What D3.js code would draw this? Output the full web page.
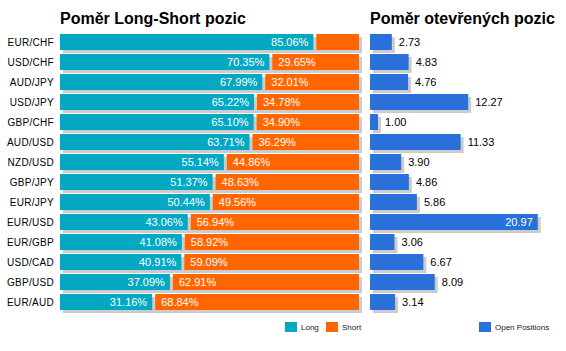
<!DOCTYPE html>
<html>
<head>
<meta charset="utf-8">
<script src="https://cdn.jsdelivr.net/npm/d3@7"></script>
<style>
  body { margin: 0; background: #fff; }
  text { font-family: "Liberation Sans", Arial, sans-serif; }
</style>
</head>
<body>
<div id="chart"></div>
<script>
const pairs = ["EUR/CHF", "USD/CHF", "AUD/JPY", "USD/JPY", "GBP/CHF", "AUD/USD", "NZD/USD",
    "GBP/JPY", "EUR/JPY", "EUR/USD", "EUR/GBP", "USD/CAD", "GBP/USD", "EUR/AUD"];
const longPct = [85.06, 70.35, 67.99, 65.22, 65.10, 63.71, 55.14, 51.37, 50.44, 43.06, 41.08, 40.91, 37.09, 31.16];
const shortPct = [14.94, 29.65, 32.01, 34.78, 34.90, 36.29, 44.86, 48.63, 49.56, 56.94, 58.92, 59.09, 62.91, 68.84];
const openPositions = [2.73, 4.83, 4.76, 12.27, 1.00, 11.33, 3.90, 4.86, 5.86, 20.97, 3.06, 6.67, 8.09, 3.14];

const W = 566, H = 351;
const teal = "#04a8c2", orange = "#ff6600", blue = "#2970db", shadow = "#cccccc";

const svg = d3.select("#chart").append("svg")
    .attr("width", W)
    .attr("height", H);

const y = d3.scaleBand()
    .domain(pairs)
    .range([32, 312])
    .paddingInner(0.2)
    .paddingOuter(0.1);

// Left chart: long/short ratio
const x = d3.scaleLinear().domain([0, 100]).range([60, 359]);

const rows = pairs.map((p, i) => ({ pair: p, long: longPct[i], short: shortPct[i], open: openPositions[i] }));

svg.append("text")
    .attr("x", 60)
    .attr("y", 24)
    .style("font-size", "16px")
    .style("font-weight", "bold")
    .text("Poměr Long-Short pozic");

const left = svg.append("g");

left.selectAll("rect.shadow")
    .data(rows)
    .join("rect")
    .attr("class", "shadow")
    .attr("x", x(0) + 3)
    .attr("y", d => y(d.pair) + 3)
    .attr("width", x(100) - x(0))
    .attr("height", y.bandwidth())
    .attr("fill", shadow);

left.selectAll("rect.long")
    .data(rows)
    .join("rect")
    .attr("class", "long")
    .attr("x", x(0))
    .attr("y", d => y(d.pair))
    .attr("width", d => x(d.long) - x(0) - 1)
    .attr("height", y.bandwidth())
    .attr("fill", teal);

left.selectAll("rect.short")
    .data(rows)
    .join("rect")
    .attr("class", "short")
    .attr("x", d => x(d.long) + 2)
    .attr("y", d => y(d.pair))
    .attr("width", d => x(100) - x(d.long) - 2)
    .attr("height", y.bandwidth())
    .attr("fill", orange);

left.selectAll("text.pair")
    .data(rows)
    .join("text")
    .attr("class", "pair")
    .attr("x", 54)
    .attr("y", d => y(d.pair) + y.bandwidth() / 2)
    .attr("dy", "0.35em")
    .attr("text-anchor", "end")
    .style("font-size", "10px")
    .style("letter-spacing", "0.3px")
    .text(d => d.pair);

left.selectAll("text.longLabel")
    .data(rows)
    .join("text")
    .attr("class", "longLabel")
    .attr("x", d => x(d.long) - 6)
    .attr("y", d => y(d.pair) + y.bandwidth() / 2)
    .attr("dy", "0.35em")
    .attr("text-anchor", "end")
    .style("font-size", "11px")
    .style("fill", "#fff")
    .text(d => d.long.toFixed(2) + "%");

left.selectAll("text.shortLabel")
    .data(rows.filter(d => d.short > 20))
    .join("text")
    .attr("class", "shortLabel")
    .attr("x", d => x(d.long) + 8)
    .attr("y", d => y(d.pair) + y.bandwidth() / 2)
    .attr("dy", "0.35em")
    .style("font-size", "11px")
    .style("fill", "#fff")
    .text(d => d.short.toFixed(2) + "%");

// Right chart: open positions
const x2 = d3.scaleLinear().domain([0, 25]).range([370, 570]);

svg.append("text")
    .attr("x", 370)
    .attr("y", 24)
    .style("font-size", "16px")
    .style("font-weight", "bold")
    .text("Poměr otevřených pozic");

const right = svg.append("g");

right.selectAll("rect.shadow")
    .data(rows)
    .join("rect")
    .attr("class", "shadow")
    .attr("x", x2(0) + 3)
    .attr("y", d => y(d.pair) + 3)
    .attr("width", d => x2(d.open) - x2(0))
    .attr("height", y.bandwidth())
    .attr("fill", shadow);

right.selectAll("rect.open")
    .data(rows)
    .join("rect")
    .attr("class", "open")
    .attr("x", x2(0))
    .attr("y", d => y(d.pair))
    .attr("width", d => x2(d.open) - x2(0))
    .attr("height", y.bandwidth())
    .attr("fill", blue);

right.selectAll("text.openLabel")
    .data(rows)
    .join("text")
    .attr("class", "openLabel")
    .attr("x", d => d.open > 15 ? x2(d.open) - 5 : x2(d.open) + 7)
    .attr("y", d => y(d.pair) + y.bandwidth() / 2)
    .attr("dy", "0.35em")
    .attr("text-anchor", d => d.open > 15 ? "end" : "start")
    .style("font-size", "11px")
    .style("fill", d => d.open > 15 ? "#fff" : "#000")
    .text(d => d.open.toFixed(2));

// Legends
const legendItems = [
    { x: 285, color: teal, label: "Long" },
    { x: 326, color: orange, label: "Short" },
    { x: 479, color: blue, label: "Open Positions" }
];

const legend = svg.append("g");
legend.selectAll("rect")
    .data(legendItems)
    .join("rect")
    .attr("x", d => d.x)
    .attr("y", 322)
    .attr("width", 12)
    .attr("height", 10)
    .attr("fill", d => d.color);

legend.selectAll("text")
    .data(legendItems)
    .join("text")
    .attr("x", d => d.x + 16)
    .attr("y", 327)
    .attr("dy", "0.35em")
    .style("font-size", "8px")
    .style("fill", "#222")
    .text(d => d.label);
</script>
</body>
</html>
